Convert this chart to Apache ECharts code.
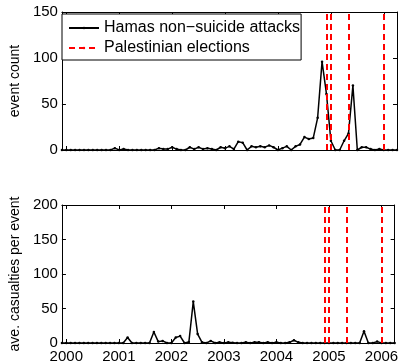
<!DOCTYPE html>
<html><head><meta charset="utf-8">
<script src="https://cdn.jsdelivr.net/npm/echarts@6/dist/echarts.min.js"></script>
<style>html,body{margin:0;padding:0;background:#fff}#c{width:401px;height:364px}</style>
</head><body><div id="c"></div>
<script>
// Monthly data; first value is Dec 1999 (month -1 counted from Jan 2000)
const FIRST_MONTH = -1;
const attacks = [0,
  0,0,0,0,0,0,0,0,0,0,0,2,        // 2000
  0,1,0,0,0,0,0,0,0,2,1,1,        // 2001
  3,1,0,0,3,1,3,1,2,1,0,3,        // 2002
  2,4,1,9,8,0,4,3,4,3,5,3,        // 2003
  0,2,4,0,4,6,14,12,13,35,96,61,  // 2004
  10,0,0,10,18,70,0,3,3,1,0,1,    // 2005
  0,0,0,0];                       // 2006
const casualties = [0,
  0,0,0,0,0,0,0,0,0,0,0,0,        // 2000
  0,0,8,0,0,0,0,0,16,2,3,0,       // 2001
  0,8,10,0,1.5,60,13,1,0,3,0,1,   // 2002
  0,1,0.5,0,0,1,0,1,1,0,1,0,      // 2003
  1,0,0,1,4,1,0,0,0,0,0,0,        // 2004
  0,0,0,0,0,0,0,0,17,0,0,2,       // 2005
  0,0,0,0];                       // 2006
const elections = [2004.917, 2005.0, 2005.333, 2006.0];
const yearTicks = [2000, 2001, 2002, 2003, 2004, 2005, 2006];
const seriesNames = ['Hamas non\u2212suicide attacks', 'Palestinian elections'];
const yNames = ['event count', 'ave. casualties per event'];
const XMIN = 2000 + FIRST_MONTH / 12;
const XMAX = 2006.25;

const toXY = arr => arr.map((v, k) => [2000 + (FIRST_MONTH + k) / 12, v]);
const FONT = 'Liberation Sans, Arial, Helvetica, sans-serif';

function xAx(grid, pos, labels) {
  return {
    type: 'value', gridIndex: grid, position: pos, min: XMIN, max: XMAX,
    axisLine: {show: true, onZero: false, lineStyle: {color: '#000', width: 1}},
    axisTick: {show: true, inside: true, length: 4, lineStyle: {color: '#000'}, customValues: yearTicks},
    axisLabel: {show: labels, color: '#000', fontSize: 15, fontFamily: FONT, margin: 6,
      customValues: yearTicks, formatter: v => String(Math.round(v))},
    splitLine: {show: false}
  };
}
function yAx(grid, pos, max, name) {
  return {
    type: 'value', gridIndex: grid, position: pos, min: 0, max: max, interval: 50,
    name: name || '', nameLocation: 'middle', nameGap: 35,
    nameTextStyle: {color: '#000', fontSize: 14, fontFamily: FONT},
    axisLine: {show: true, lineStyle: {color: '#000', width: 1}},
    axisTick: {show: true, inside: true, length: 4, lineStyle: {color: '#000'}},
    axisLabel: {show: !!name, color: '#000', fontSize: 15, fontFamily: FONT, margin: 4},
    splitLine: {show: false}
  };
}
const redLine = {color: '#ff0000', type: [6, 4], width: 2};
const chart = echarts.init(document.getElementById('c'), null, {renderer: 'canvas'});
chart.setOption({
  animation: false,
  backgroundColor: '#fff',
  grid: [
    {left: 57, top: 12, width: 340, height: 138},
    {left: 57, top: 205, width: 340, height: 138}
  ],
  xAxis: [xAx(0, 'bottom', false), xAx(0, 'top', false), xAx(1, 'bottom', true), xAx(1, 'top', false)],
  yAxis: [yAx(0, 'left', 150, yNames[0]), yAx(0, 'right', 150), yAx(1, 'left', 200, yNames[1]), yAx(1, 'right', 200)],
  legend: {
    orient: 'vertical', left: 62, top: 14, padding: [5, 1, 3, 6], itemGap: 2,
    itemWidth: 30, itemHeight: 3, backgroundColor: '#fff', borderColor: '#000', borderWidth: 1,
    textStyle: {color: '#000', fontSize: 16, fontFamily: FONT, lineHeight: 18, padding: [0, 0, 0, 0]},
    data: seriesNames
  },
  series: [
    {name: seriesNames[0], type: 'line', xAxisIndex: 0, yAxisIndex: 0, data: toXY(attacks),
      symbol: 'circle', symbolSize: 2.5, showSymbol: true, color: '#000',
      lineStyle: {color: '#000', width: 1.5}, itemStyle: {color: '#000'}, z: 3},
    {name: seriesNames[1], type: 'line', xAxisIndex: 0, yAxisIndex: 0, data: [], symbol: 'none',
      color: '#ff0000', lineStyle: redLine,
      markLine: {silent: true, symbol: 'none', label: {show: false}, lineStyle: redLine,
        data: elections.map(x => ({xAxis: x}))}},
    {name: seriesNames[0], type: 'line', xAxisIndex: 2, yAxisIndex: 2, data: toXY(casualties),
      symbol: 'circle', symbolSize: 2.5, showSymbol: true, color: '#000',
      lineStyle: {color: '#000', width: 1.5}, itemStyle: {color: '#000'}, z: 3},
    {name: seriesNames[1], type: 'line', xAxisIndex: 2, yAxisIndex: 2, data: [], symbol: 'none',
      color: '#ff0000', lineStyle: redLine,
      markLine: {silent: true, symbol: 'none', label: {show: false}, lineStyle: redLine,
        data: elections.map(x => ({xAxis: x}))}}
  ]
});
</script></body></html>
